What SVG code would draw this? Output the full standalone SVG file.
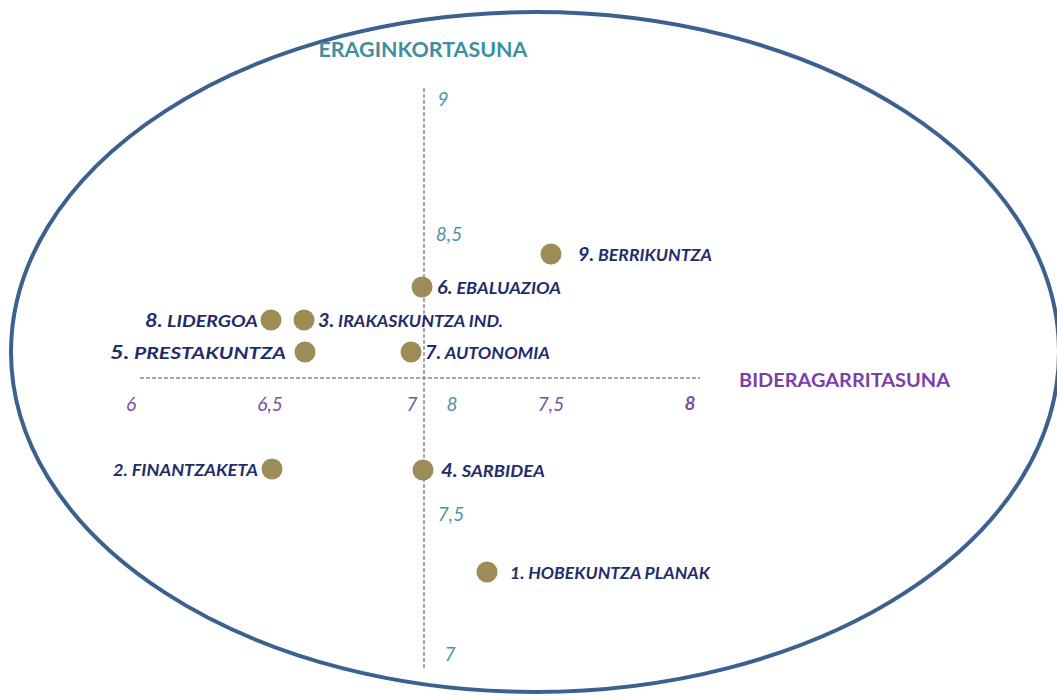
<svg xmlns="http://www.w3.org/2000/svg" width="1057" height="697" viewBox="0 0 1057 697">
<style>
.lbl{font-family:Lato,"Open Sans","Liberation Sans",sans-serif;font-style:italic;font-weight:bold;font-size:17.5px;fill:#1f2d6b}
.num{font-size:19.5px}
.tx{font-family:Lato,"Open Sans","Liberation Sans",sans-serif;font-style:italic;font-size:19px;fill:#7b4fa3}
.ty{font-family:Lato,"Open Sans","Liberation Sans",sans-serif;font-style:italic;font-size:19px;fill:#4e93a6}
.dot{fill:#9b8c58}
.axis{stroke:#8a8a8a;stroke-width:1.5;stroke-dasharray:4 2;fill:none}
</style>
<rect width="1057" height="697" fill="#ffffff"/>
<ellipse id="frame" cx="535" cy="352" rx="524" ry="340" fill="none" stroke="#3a6190" stroke-width="4"/>
<g id="axes">
<line class="axis" x1="424" y1="88" x2="424" y2="668"/>
<line class="axis" x1="140" y1="378" x2="700" y2="378"/>
</g>
<g id="titles">
<text x="423" y="57" text-anchor="middle" font-family="Lato,'Open Sans','Liberation Sans',sans-serif" font-weight="bold" font-size="20" fill="#3f8fa0" textLength="209" lengthAdjust="spacingAndGlyphs">ERAGINKORTASUNA</text>
<text x="739" y="387" font-family="Lato,'Open Sans','Liberation Sans',sans-serif" font-weight="bold" font-size="19" fill="#7a3fa8" textLength="211" lengthAdjust="spacingAndGlyphs">BIDERAGARRITASUNA</text>
</g>
<g id="xticks">
<text class="tx" x="131" y="411" text-anchor="middle">6</text>
<text class="tx" x="270" y="411" text-anchor="middle">6,5</text>
<text class="tx" x="412" y="411" text-anchor="middle">7</text>
<text class="tx" x="551" y="411" text-anchor="middle">7,5</text>
<text class="tx" x="690" y="410" text-anchor="middle" font-weight="bold">8</text>
</g>
<g id="yticks">
<text class="ty" x="443" y="106" text-anchor="middle">9</text>
<text class="ty" x="449" y="241" text-anchor="middle">8,5</text>
<text class="ty" x="452" y="411" text-anchor="middle">8</text>
<text class="ty" x="451" y="521" text-anchor="middle">7,5</text>
<text class="ty" x="450" y="661" text-anchor="middle">7</text>
</g>
<g id="p9"><circle class="dot" cx="551" cy="254" r="10.5"/><text class="lbl" x="578" y="261" textLength="134" lengthAdjust="spacingAndGlyphs"><tspan class="num">9.</tspan> BERRIKUNTZA</text></g>
<g id="p6"><circle class="dot" cx="422" cy="287" r="10.5"/><text class="lbl" x="437" y="294" textLength="124" lengthAdjust="spacingAndGlyphs"><tspan class="num">6.</tspan> EBALUAZIOA</text></g>
<g id="p8"><circle class="dot" cx="271" cy="320" r="10.5"/><text class="lbl" x="145" y="327" textLength="113" lengthAdjust="spacingAndGlyphs"><tspan class="num">8.</tspan> LIDERGOA</text></g>
<g id="p3"><circle class="dot" cx="304" cy="320" r="10.5"/><text class="lbl" x="318" y="327" textLength="185" lengthAdjust="spacingAndGlyphs"><tspan class="num">3.</tspan> IRAKASKUNTZA IND.</text></g>
<g id="p5"><circle class="dot" cx="305" cy="352" r="10.5"/><text class="lbl" x="110" y="359" textLength="176" lengthAdjust="spacingAndGlyphs"><tspan class="num">5.</tspan> PRESTAKUNTZA</text></g>
<g id="p7"><circle class="dot" cx="411" cy="352" r="10.5"/><text class="lbl" x="425" y="359" textLength="125" lengthAdjust="spacingAndGlyphs"><tspan class="num">7.</tspan> AUTONOMIA</text></g>
<g id="p2"><circle class="dot" cx="272" cy="469" r="10.5"/><text class="lbl" x="113" y="476" textLength="145" lengthAdjust="spacingAndGlyphs">2. FINANTZAKETA</text></g>
<g id="p4"><circle class="dot" cx="423" cy="470" r="10.5"/><text class="lbl" x="441" y="477" textLength="104" lengthAdjust="spacingAndGlyphs"><tspan class="num">4.</tspan> SARBIDEA</text></g>
<g id="p1"><circle class="dot" cx="487" cy="572" r="10.5"/><text class="lbl" x="510" y="579" textLength="200" lengthAdjust="spacingAndGlyphs">1. HOBEKUNTZA PLANAK</text></g>
</svg>
